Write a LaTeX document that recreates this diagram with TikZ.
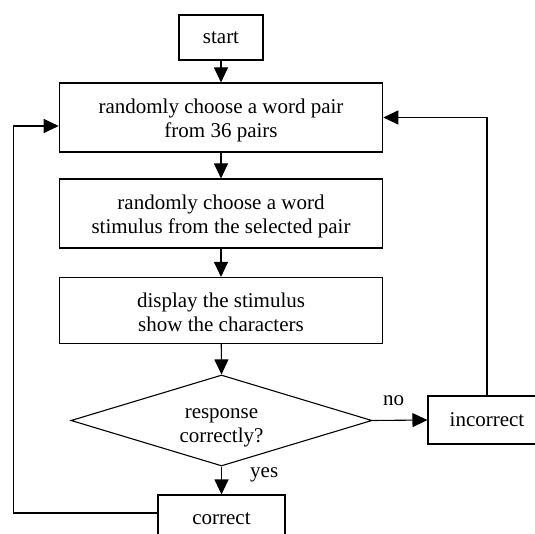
\documentclass[tikz,border=0pt]{standalone}
\usepackage{fontspec}
\setmainfont{Liberation Serif}
\usetikzlibrary{arrows.meta,shapes.geometric}
\newcommand{\tstrut}{\rule{0pt}{21.6pt}}
\newcommand{\dstrut}{\rule{0pt}{24pt}}
\newcommand{\bstrut}{\rule[-4.6pt]{0pt}{4.6pt}}
\newcommand{\sstrut}{\rule[-4.6pt]{0pt}{21.6pt}}
\begin{document}
\begin{tikzpicture}[x=1pt,y=1pt,
  every node/.style={font=\fontsize{21}{24}\selectfont, inner sep=0pt},
  box/.style={draw, line width=1.1pt, align=center, minimum height=69pt, minimum width=323.5pt},
  smallbox/.style={draw, line width=1.1pt, minimum height=48pt},
  decision/.style={draw, line width=1.1pt, shape=diamond, aspect=3.3, align=center, minimum width=301pt, minimum height=91pt},
  arr/.style={line width=1.1pt, -{Triangle[length=15pt,width=14pt]}},
  lbl/.style={anchor=base west}
]
\useasboundingbox (0,0) rectangle (535,-534);
\clip (0,0) rectangle (535,-534);
\node[smallbox, minimum width=84pt, minimum height=45pt] (start) at (221,-37.5) {\sstrut start};
\node[box] (b1) at (221,-117.5) {\tstrut randomly choose a word pair\\from 36 pairs\bstrut};
\node[box] (b2) at (221,-213.5) {\tstrut randomly choose a word\\stimulus from the selected pair\bstrut};
\node[box, minimum height=66pt] (b3) at (221,-310.5) {\tstrut display the stimulus\\show the characters\bstrut};
\node[decision] (dec) at (221.5,-420.5) {\dstrut response\\correctly?\bstrut};
\node[smallbox, minimum width=118pt] (inc) at (487,-420) {\sstrut incorrect};
\node[smallbox, minimum width=127pt] (cor) at (221.5,-519) {correct};
\node[lbl] (no) at (383,-405) {no};
\node[lbl] (yes) at (250,-477) {yes};
\draw[arr] (start) -- (b1);
\draw[arr] (b1) -- (b2);
\draw[arr] (b2) -- (b3);
\draw[arr] (b3) -- (dec.north);
\draw[arr] (dec.east) -- (inc.west);
\draw[arr] (dec.south) -- (cor.north);
\coordinate (lx) at (13.5,-513);
\draw[arr] ([yshift=6pt]cor.west) -- (lx) -- (13.5,-126) -- ([yshift=-8.5pt]b1.west);
\draw[arr] (inc.north) -- (inc.north |- b1.east) -- (b1.east);
\end{tikzpicture}
\end{document}
